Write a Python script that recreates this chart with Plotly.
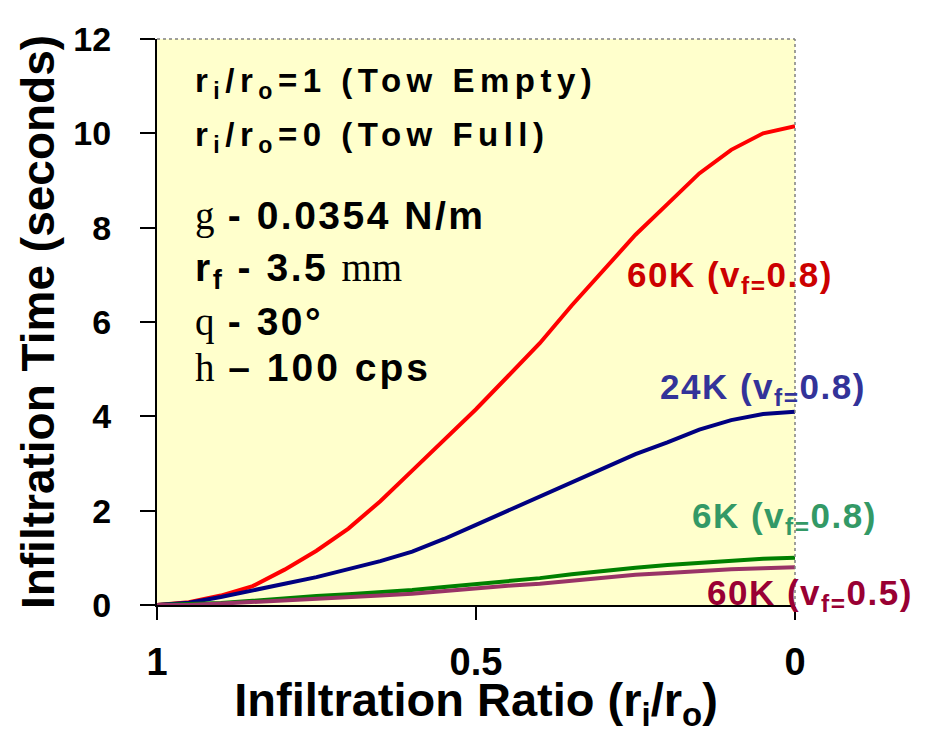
import plotly.graph_objects as go

ratio = [1.0, 0.95, 0.9, 0.85, 0.8, 0.75, 0.7, 0.65, 0.6, 0.55, 0.5,
         0.45, 0.4, 0.35, 0.3, 0.25, 0.2, 0.15, 0.1, 0.05, 0.0]
t_60k_08 = [0, 0.06, 0.2, 0.4, 0.75, 1.15, 1.62, 2.2, 2.85, 3.5, 4.15,
            4.85, 5.55, 6.35, 7.1, 7.85, 8.5, 9.15, 9.65, 10.0, 10.15]
t_24k_08 = [0, 0.05, 0.17, 0.32, 0.45, 0.59, 0.75, 0.93, 1.13, 1.40, 1.70,
            2.0, 2.3, 2.6, 2.92, 3.2, 3.45, 3.72, 3.92, 4.05, 4.1]
t_6k_08 = [0, 0.01, 0.04, 0.09, 0.15, 0.19, 0.23, 0.27, 0.32, 0.38, 0.44,
           0.5, 0.57, 0.65, 0.73, 0.79, 0.85, 0.9, 0.95, 0.98, 1.0]
t_60k_05 = [0, 0.0, 0.03, 0.06, 0.1, 0.13, 0.16, 0.2, 0.24, 0.3, 0.36,
            0.41, 0.45, 0.52, 0.59, 0.64, 0.68, 0.73, 0.76, 0.78, 0.8]

series_names = ["60K (v<sub>f=</sub>0.8)", "24K (v<sub>f=</sub>0.8)",
                "6K (v<sub>f=</sub>0.8)", "60K (v<sub>f=</sub>0.5)"]
series_values = [t_60k_08, t_24k_08, t_6k_08, t_60k_05]
line_colors = ["#FF0000", "#000080", "#008000", "#993366"]
label_colors = ["#CC0000", "#333399", "#339966", "#990033"]
label_pos = [(0.2665, 6.95), (0.215, 4.57), (0.165, 1.84), (0.141, 0.21)]

x_ticks = [1, 0.5, 0]
x_tick_labels = ["1", "0.5", "0"]
y_ticks = [0, 2, 4, 6, 8, 10, 12]

SANS = "Liberation Sans, Arial, sans-serif"
SERIF = "Liberation Serif, Times New Roman, serif"


def spaced(s, px):
    return f"<span style='letter-spacing:{px}px'>{s}</span>"


def serif(s):
    return f"<span style='font-family:{SERIF};font-weight:normal'>{s}</span>"


fig = go.Figure()
for name, vals, c in zip(series_names, series_values, line_colors):
    fig.add_trace(go.Scatter(x=ratio, y=vals, mode="lines", name=name,
                             line=dict(color=c, width=4), showlegend=False))

for name, (lx, ly), c in zip(series_names, label_pos, label_colors):
    fig.add_annotation(x=lx, y=ly, xref="x", yref="y", text=spaced(name, 1.5),
                       showarrow=False, xanchor="left", yanchor="middle",
                       font=dict(family=SANS, size=35, color=c, weight="bold"))

info_lines = [
    (spaced("r<sub>i</sub>/r<sub>o</sub>=1 (Tow Empty)", 5.5), 0.922, 33),
    (spaced("r<sub>i</sub>/r<sub>o</sub>=0 (Tow Full)", 5.5), 0.826, 33),
    (serif("g") + spaced(" - 0.0354 N/m", 2.5), 0.688, 39),
    (spaced("r<sub>f</sub> - 3.5 ", 2.5) + serif("mm"), 0.591, 39),
    (serif("q") + spaced(" - 30°", 2.5), 0.500, 39),
    (serif("h") + spaced(" – 100 cps", 3), 0.419, 39),
]
for txt, py, sz in info_lines:
    fig.add_annotation(x=0.056, y=py, xref="paper", yref="paper", text=txt,
                       showarrow=False, xanchor="left", yanchor="middle",
                       font=dict(family=SANS, size=sz, color="black", weight="bold"))

# dotted gray top and right frame
fig.add_shape(type="line", xref="paper", yref="paper", x0=0, x1=1, y0=1, y1=1,
              line=dict(color="#808080", width=1.5, dash="dot"))
fig.add_shape(type="line", xref="paper", yref="paper", x0=1, x1=1, y0=0, y1=1,
              line=dict(color="#808080", width=1.5, dash="dot"))

fig.update_layout(
    width=918, height=725,
    margin=dict(l=149, r=131, t=24, b=128),
    paper_bgcolor="white", plot_bgcolor="#FFFFCC",
    font=dict(family=SANS, color="black"),
    xaxis=dict(range=[1, 0], tickvals=x_ticks, ticktext=x_tick_labels,
               showgrid=False, zeroline=False, showline=True, linecolor="black",
               linewidth=2, ticks="outside", ticklen=13, tickwidth=1.5,
               tickcolor="black", ticklabelstandoff=9,
               tickfont=dict(family=SANS, size=38, weight="bold"),
               title=dict(text="Infiltration Ratio (r<sub>i</sub>/r<sub>o</sub>)",
                          font=dict(family=SANS, size=47, weight="bold"),
                          standoff=4)),
    yaxis=dict(range=[0, 12], tickvals=y_ticks, showgrid=False, zeroline=False,
               showline=True, linecolor="black", linewidth=2, ticks="outside",
               ticklen=15, tickwidth=1.5, tickcolor="black",
               ticklabelstandoff=22,
               tickfont=dict(family=SANS, size=34, weight="bold"),
               title=dict(text="Infiltration Time (seconds)",
                          font=dict(family=SANS, size=46, weight="bold"),
                          standoff=4)),
)

fig.write_html("out.html")
